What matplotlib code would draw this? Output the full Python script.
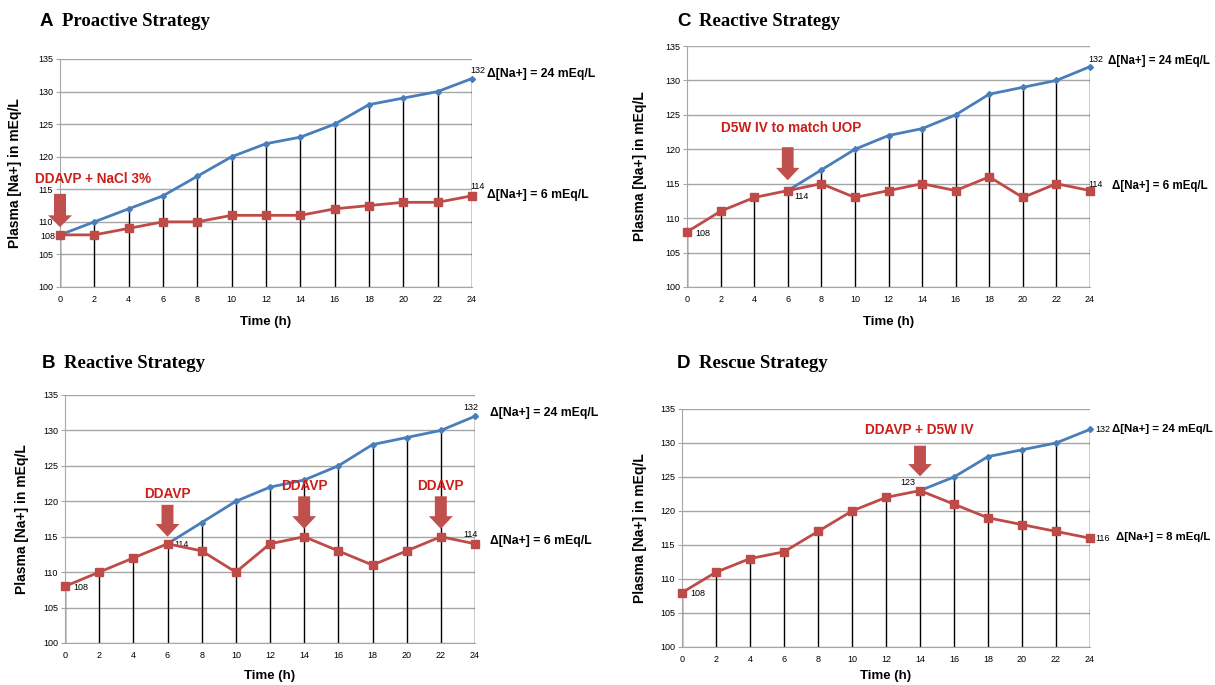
import numpy as np
import matplotlib
matplotlib.use("Agg")
import matplotlib.pyplot as plt
from matplotlib.patches import FancyArrow

nan = np.nan

# time points (h)
hours = [0, 2, 4, 6, 8, 10, 12, 14, 16, 18, 20, 22, 24]

# uncorrected course (blue), same in every panel once it splits off
blue_A = [108, 110, 112, 114, 117, 120, 122, 123, 125, 128, 129, 130, 132]
blue_B = [nan, nan, nan, 114, 117, 120, 122, 123, 125, 128, 129, 130, 132]
blue_C = [nan, nan, nan, 114, 117, 120, 122, 123, 125, 128, 129, 130, 132]
blue_D = [nan, nan, nan, nan, nan, nan, nan, 123, 125, 128, 129, 130, 132]

# strategy course (red)
red_A = [108, 108, 109, 110, 110, 111, 111, 111, 112, 112.5, 113, 113, 114]
red_B = [108, 110, 112, 114, 113, 110, 114, 115, 113, 111, 113, 115, 114]
red_C = [108, 111, 113, 114, 115, 113, 114, 115, 114, 116, 113, 115, 114]
red_D = [108, 111, 113, 114, 117, 120, 122, 123, 121, 119, 118, 117, 116]

y_ticks = [100, 105, 110, 115, 120, 125, 130, 135]
x_ticks = hours

BLUE = "#4a7ebb"
RED = "#be4b48"
ARROW = "#c0504d"
TXT_RED = "#cc1f1a"
GRID = "#a6a6a6"
NARROW = ["Liberation Sans Narrow", "Liberation Sans", "DejaVu Sans"]

W, H = 1215, 685
fig = plt.figure(figsize=(W / 100, H / 100), dpi=100)


def px_axes(left, top, right, bottom):
    return fig.add_axes([left / W, 1 - bottom / H, (right - left) / W, (bottom - top) / H])


def draw_panel(ax, blue, red, ylab_px, xlab_px):
    blue = np.array(blue, dtype=float)
    red = np.array(red, dtype=float)
    ax.set_xlim(0, 24)
    ax.set_ylim(100, 135)
    ax.set_yticks(y_ticks)
    ax.set_xticks(x_ticks)
    ax.grid(axis="y", color=GRID, lw=1)
    ax.set_axisbelow(True)
    for s in ["top", "right"]:
        ax.spines[s].set_visible(False)
    for s in ["left", "bottom"]:
        ax.spines[s].set_color(GRID)
    ax.tick_params(axis="y", length=3, color=GRID, labelsize=6.5, pad=2)
    ax.tick_params(axis="x", length=0, labelsize=6.5, pad=6)
    for lab in ax.get_xticklabels() + ax.get_yticklabels():
        lab.set_family(NARROW)

    # drop lines from the highest point down to the x axis
    top = np.fmax(blue, red)
    ax.vlines(hours, 100, top, color="black", lw=1, zorder=2)

    ax.plot(hours, blue, color=BLUE, lw=2, marker="D", ms=3, zorder=3, clip_on=False)
    ax.plot(hours, red, color=RED, lw=2, marker="s", ms=6, zorder=4, clip_on=False)

    bbox = ax.get_position()
    w_px = bbox.width * W
    h_px = bbox.height * H
    ax.set_ylabel("Plasma [Na+] in mEq/L", fontsize=10, fontweight="bold",
                  family=NARROW, va="center")
    ax.yaxis.set_label_coords(-ylab_px / w_px, 0.5)
    ax.set_xlabel("Time (h)", fontsize=9.5, fontweight="bold", family=NARROW, va="center")
    ax.xaxis.set_label_coords(0.5, -xlab_px / h_px)


def small(ax, x, y, s, ha="left", va="center"):
    ax.text(x, y, s, fontsize=6.5, ha=ha, va=va, family=NARROW, clip_on=False)


def delta(ax, y, s, dx=15, dy=3, size=8.8):
    ax.annotate(s, xy=(24, y), xytext=(dx, dy), textcoords="offset pixels",
                fontsize=size, fontweight="bold", family=NARROW, va="center", ha="left",
                annotation_clip=False)


def arrow(ax, x, tail, tip):
    ax.add_patch(FancyArrow(x, tail, 0, tip - tail, width=0.7, head_width=1.4,
                            head_length=1.8, length_includes_head=True,
                            color=ARROW, lw=0, zorder=5, clip_on=False))


def red_text(ax, x, y, s, ha="center"):
    ax.text(x, y, s, fontsize=9.8, fontweight="bold", color=TXT_RED, ha=ha,
            va="center", family=NARROW, clip_on=False)


def title(x_px, y_px, letter, name):
    fig.text(x_px / W, 1 - y_px / H, letter, fontsize=13.5, fontweight="bold",
             family=["Liberation Sans", "DejaVu Sans"], va="center", ha="left")
    fig.text((x_px + 22) / W, 1 - y_px / H, name, fontsize=13.5, fontweight="bold",
             family=["Liberation Serif", "DejaVu Serif"], va="center", ha="left")


# A - proactive
axA = px_axes(60, 59, 472, 287)
draw_panel(axA, blue_A, red_A, 45, 35)
arrow(axA, 0, 114.3, 109.2)
red_text(axA, -1.45, 116.6, "DDAVP + NaCl 3%", ha="left")
small(axA, -0.3, 107.8, "108", ha="right")
small(axA, 23.9, 133.3, "132")
small(axA, 23.9, 115.4, "114")
delta(axA, 132, "\u0394[Na+] = 24 mEq/L", dy=5)
delta(axA, 114, "\u0394[Na+] = 6 mEq/L", dy=1)
title(40, 22, "A", "Proactive Strategy")

# B - reactive, DDAVP doses
axB = px_axes(65, 395, 475, 643)
draw_panel(axB, blue_B, red_B, 43, 33)
for x0, tail, tip, ty in [(6, 119.5, 115.0, 121.0), (14, 120.7, 116.1, 122.2),
                          (22, 120.7, 116.1, 122.2)]:
    arrow(axB, x0, tail, tip)
    red_text(axB, x0, ty, "DDAVP")
small(axB, 0.5, 107.8, "108")
small(axB, 6.4, 113.9, "114")
small(axB, 23.3, 115.3, "114")
small(axB, 23.3, 133.3, "132")
delta(axB, 132, "\u0394[Na+] = 24 mEq/L", dy=3)
delta(axB, 114, "\u0394[Na+] = 6 mEq/L", dy=3)
title(42, 363, "B", "Reactive Strategy")

# C - reactive, D5W
axC = px_axes(687, 46, 1090, 287)
draw_panel(axC, blue_C, red_C, 47, 35)
arrow(axC, 6, 120.3, 115.5)
red_text(axC, 6.2, 123.1, "D5W IV to match UOP")
small(axC, 0.5, 107.8, "108")
small(axC, 6.4, 113.1, "114")
small(axC, 23.9, 114.9, "114")
small(axC, 23.9, 133.0, "132")
delta(axC, 132, "\u0394[Na+] = 24 mEq/L", dx=18, dy=6, size=8.3)
delta(axC, 114, "\u0394[Na+] = 6 mEq/L", dx=22, dy=5, size=8.3)
title(677, 22, "C", "Reactive Strategy")

# D - rescue
axD = px_axes(682, 409, 1090, 647)
draw_panel(axD, blue_D, red_D, 42, 29)
arrow(axD, 14, 129.6, 125.1)
red_text(axD, 13.95, 131.9, "DDAVP + D5W IV")
small(axD, 13.3, 124.2, "123", ha="center")
small(axD, 0.5, 107.8, "108")
small(axD, 24.3, 132, "132")
small(axD, 24.3, 116, "116")
delta(axD, 132, "\u0394[Na+] = 24 mEq/L", dx=22, dy=0, size=8.2)
delta(axD, 116, "\u0394[Na+] = 8 mEq/L", dx=26, dy=1, size=8.2)
title(677, 363, "D", "Rescue Strategy")

fig.savefig("out.png", dpi=100)
